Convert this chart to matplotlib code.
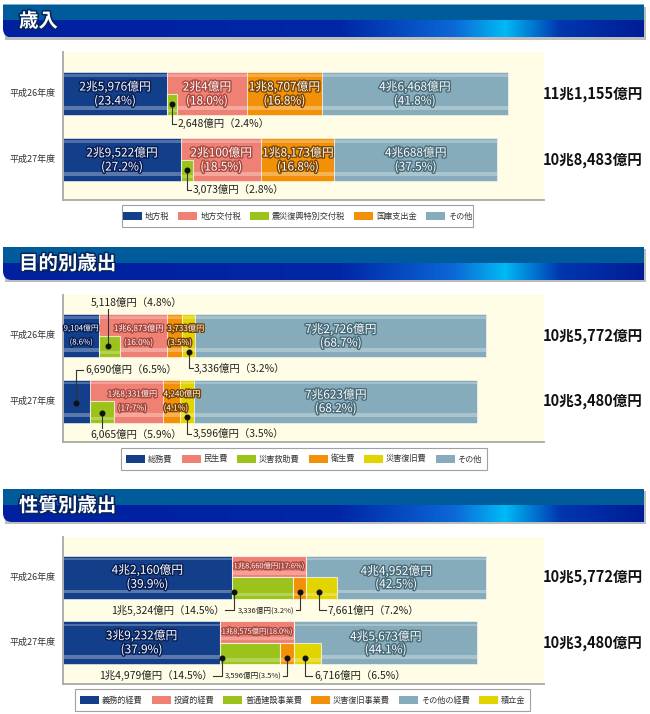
import numpy as np
import matplotlib
matplotlib.use('Agg')
import matplotlib.pyplot as plt
import matplotlib.patheffects as pe
from matplotlib.patches import Rectangle, PathPatch
from matplotlib.path import Path

plt.rcParams['font.family'] = ['Noto Sans CJK JP', 'DejaVu Sans']

years = ['平成26年度', '平成27年度']

# 歳入 (億円 / %)
rev_names = ['地方税', '地方交付税', '震災復興特別交付税', '国庫支出金', 'その他']
rev_tax = [25976, 29522]
rev_tax_pct = [23.4, 27.2]
rev_alloc = [20004, 20100]
rev_alloc_pct = [18.0, 18.5]
rev_quake = [2648, 3073]          # 地方交付税のうち
rev_quake_pct = [2.4, 2.8]
rev_treasury = [18707, 18173]
rev_treasury_pct = [16.8, 16.8]
rev_other = [46468, 40688]
rev_other_pct = [41.8, 37.5]

# 目的別歳出
pur_names = ['総務費', '民生費', '災害救助費', '衛生費', '災害復旧費', 'その他']
pur_general = [9104, 6690]
pur_general_pct = [8.6, 6.5]
pur_welfare = [16873, 18331]
pur_welfare_pct = [16.0, 17.7]
pur_relief = [5118, 6065]         # 民生費のうち
pur_relief_pct = [4.8, 5.9]
pur_health = [3733, 4240]
pur_health_pct = [3.5, 4.1]
pur_disaster = [3336, 3596]
pur_disaster_pct = [3.2, 3.5]
pur_other = [72726, 70623]
pur_other_pct = [68.7, 68.2]

# 性質別歳出
nat_names = ['義務的経費', '投資的経費', '普通建設事業費', '災害復旧事業費', 'その他の経費', '積立金']
nat_mandatory = [42160, 39232]
nat_mandatory_pct = [39.9, 37.9]
nat_invest = [18660, 18575]
nat_invest_pct = [17.6, 18.0]
nat_construct = [15324, 14979]    # 投資的経費の内訳
nat_construct_pct = [14.5, 14.5]
nat_recovery = [3336, 3596]
nat_recovery_pct = [3.2, 3.5]
nat_other = [44952, 45673]
nat_other_pct = [42.5, 44.1]
nat_reserve = [7661, 6716]        # その他の経費のうち
nat_reserve_pct = [7.2, 6.5]

W, H = 650, 714
PX = 250          # 億円 per pixel
X0, X1 = 63, 544
BAR_H = 43

NAVY = '#133e89'
PINK = '#ef8174'
GREEN = '#9cc31b'
ORANGE = '#f29108'
GRAYBLUE = '#86abba'
YELLOW = '#e2d400'
CREAM = '#fffde6'
NAVY_S = '#071d52'
PINK_S = '#a9463d'
ORANGE_S = '#7a4300'
GRAY_S = '#476a78'


def oku(v):
    if v >= 10000:
        return f'{v // 10000}兆{v % 10000:,}億円'
    return f'{v:,}億円'


fig = plt.figure(figsize=(W / 100, H / 100), dpi=100)
fig.patch.set_facecolor('white')
bg = fig.add_axes([0, 0, 1, 1])
bg.axis('off')


def banner(top, title):
    bot = top + 33
    x0, x1, r = 3, 644, 9
    bg.add_patch(Rectangle((x0 + 2, top + 2), x1 - x0, bot - top, fc='#bdbdbd', ec='none',
                           zorder=0))
    verts = [(x0, top), (x1, top), (x1, bot), (x0 + r, bot), (x0, bot), (x0, bot - r), (x0, top)]
    codes = [Path.MOVETO, Path.LINETO, Path.LINETO, Path.LINETO,
             Path.CURVE3, Path.CURVE3, Path.CLOSEPOLY]
    clip = PathPatch(Path(verts, codes), transform=bg.transData, fc='none', ec='none')
    bg.add_patch(clip)
    xs = np.arange(x0, x1) + 0.5
    sx = [x0, 340, 455, 505, 560, x1]
    sc = np.array([(0, 32, 160), (0, 38, 166), (12, 105, 215),
                   (0, 186, 245), (0, 55, 175), (0, 28, 150)]) / 255
    lower = np.stack([np.interp(xs, sx, sc[:, k]) for k in range(3)], axis=-1)
    upper = np.tile(np.array([0, 91, 155]) / 255, (len(xs), 1))
    img = np.stack([upper, lower])
    im = bg.imshow(img, extent=(x0, x1, bot, top), aspect='auto', interpolation='nearest',
                   zorder=1)
    im.set_clip_path(clip)
    bg.text(19, (top + bot) / 2 + 0.5, title, color='white', fontsize=14, fontweight='bold',
            va='center', ha='left', zorder=3,
            path_effects=[pe.withStroke(linewidth=2.2, foreground='#06245e')])


def panel(top, bottom):
    ax = fig.add_axes([X0 / W, 1 - bottom / H, (X1 - X0) / W, (bottom - top) / H])
    ax.set_xlim(0, (X1 - X0) * PX)
    ax.set_ylim(bottom, top)
    ax.set_facecolor(CREAM)
    ax.set_xticks([])
    ax.set_yticks([])
    ax.spines[['top', 'right']].set_visible(False)
    ax.spines[['left', 'bottom']].set_color('#a9a9a9')
    ax.spines[['left', 'bottom']].set_linewidth(1.3)
    return ax


def seg(ax, y, h, left, width, color):
    ax.barh(y, width, left=left, height=h, color=color, edgecolor=(1, 1, 1, 0.55), linewidth=0.7)
    ax.barh(y + h * 0.33, width, left=left, height=h * 0.09, color='white', alpha=0.3, linewidth=0)
    ax.barh(y - h * 0.42, width, left=left, height=h * 0.05, color='white', alpha=0.25, linewidth=0)


def sub(ax, y, h, left, width, color):
    ax.barh(y, width, left=left, height=h, color=color, edgecolor=(1, 1, 1, 0.7), linewidth=0.8)
    ax.barh(y + h * 0.3, width, left=left, height=h * 0.14, color='white', alpha=0.25, linewidth=0)


def inlabel(ax, x, y, s, stroke, size=8.5, ha='center'):
    ax.text(x, y, s, ha=ha, va='center', fontsize=size, color='white',
            path_effects=[pe.withStroke(linewidth=2, foreground=stroke)])


def callout(ax, xd, yd, yt, xe, s, size=7.5, gap=1.5):
    ax.plot([xd, xd, xe], [yd, yt, yt], color='#333333', lw=0.8)
    ax.plot(xd, yd, 'o', color='#111111', ms=3.3)
    if xe >= xd:
        ax.text(xe + gap * PX, yt, s, ha='left', va='center', fontsize=size, color='#222222')
    else:
        ax.text(xe - gap * PX, yt, s, ha='right', va='center', fontsize=size, color='#222222')


def legend(top, left, right, names, colors):
    h = 22
    bg.add_patch(Rectangle((left, top), right - left, h, fc='white', ec='#a0a0a0', lw=0.8))
    rend = fig.canvas.get_renderer()
    texts = [bg.text(0, top + h / 2, n, fontsize=5.9, va='center', ha='left', color='#333333')
             for n in names]
    widths = [t.get_window_extent(rend).width for t in texts]
    sw, g1, g2 = 19, 3, 9
    total = sum(sw + g1 + w for w in widths) + g2 * (len(names) - 1)
    x = (left + right) / 2 - total / 2
    for t, w, c in zip(texts, widths, colors):
        bg.add_patch(Rectangle((x, top + h / 2 - 4), sw, 8, fc=c, ec='none'))
        t.set_x(x + sw + g1)
        x += sw + g1 + w + g2


def side_texts(ys, totals):
    for i, y in enumerate(ys):
        bg.text(33, y, years[i], ha='center', va='center', fontsize=6.5, color='#333333')
        bg.text(593, y, oku(totals[i]), ha='center', va='center', fontsize=10.5,
                fontweight='bold', color='#111111')


# ---------------- 歳入 ----------------
banner(4.5, '歳入')
ax1 = panel(52, 200)
ys1 = [93.5, 159.5]
for i, y in enumerate(ys1):
    vals = [rev_tax[i], rev_alloc[i], rev_treasury[i], rev_other[i]]
    pcts = [rev_tax_pct[i], rev_alloc_pct[i], rev_treasury_pct[i], rev_other_pct[i]]
    cols = [NAVY, PINK, ORANGE, GRAYBLUE]
    strokes = [NAVY_S, PINK_S, ORANGE_S, GRAY_S]
    lefts = np.cumsum([0] + vals[:-1])
    for v, l, c, s, p in zip(vals, lefts, cols, strokes, pcts):
        seg(ax1, y, BAR_H, l, v, c)
        inlabel(ax1, l + v / 2, y - 6.5, oku(v), s)
        inlabel(ax1, l + v / 2, y + 7.5, f'({p:.1f}%)', s)
    q = rev_quake[i]
    sub(ax1, y + BAR_H / 4, BAR_H / 2, lefts[1], q, GREEN)
    xd = lefts[1] + q / 2
    callout(ax1, xd, y + 10, y + 30, xd + 4 * PX, f'{oku(q)}（{rev_quake_pct[i]:.1f}%）')
side_texts(ys1, [a + b + c + d for a, b, c, d in zip(rev_tax, rev_alloc, rev_treasury, rev_other)])
legend(205, 122, 473, rev_names, [NAVY, PINK, GREEN, ORANGE, GRAYBLUE])

# ---------------- 目的別歳出 ----------------
banner(247, '目的別歳出')
ax2 = panel(295, 442)
ys2 = [335.5, 401]
for i, y in enumerate(ys2):
    vals = [pur_general[i], pur_welfare[i], pur_health[i], pur_disaster[i], pur_other[i]]
    cols = [NAVY, PINK, ORANGE, YELLOW, GRAYBLUE]
    lefts = np.cumsum([0] + vals[:-1])
    for v, l, c in zip(vals, lefts, cols):
        seg(ax2, y, BAR_H, l, v, c)
    r = pur_relief[i]
    sub(ax2, y + BAR_H / 4, BAR_H / 2, lefts[1], r, GREEN)

    wl = lefts[1] + vals[1] * 0.58
    inlabel(ax2, wl, y - 7, oku(vals[1]), PINK_S, size=5.9)
    inlabel(ax2, wl, y + 7, f'({pur_welfare_pct[i]:.1f}%)', PINK_S, size=5.9)
    inlabel(ax2, lefts[2] + 0.5 * PX, y - 7, oku(vals[2]), ORANGE_S, 5.9, 'left')
    inlabel(ax2, lefts[2] + 0.5 * PX, y + 7, f'({pur_health_pct[i]:.1f}%)', ORANGE_S, 5.9, 'left')
    inlabel(ax2, lefts[4] + vals[4] / 2, y - 6, oku(vals[4]), GRAY_S)
    inlabel(ax2, lefts[4] + vals[4] / 2, y + 7.5, f'({pur_other_pct[i]:.1f}%)', GRAY_S)

    xd = lefts[3] + vals[3] / 2
    callout(ax2, xd, y + 16, y + 32.5, xd + 4 * PX,
            f'{oku(vals[3])}（{pur_disaster_pct[i]:.1f}%）')

    if i == 0:
        inlabel(ax2, vals[0] / 2, y - 7, oku(vals[0]), NAVY_S, size=5.6)
        inlabel(ax2, vals[0] / 2, y + 7, f'({pur_general_pct[i]:.1f}%)', NAVY_S, size=5.6)
        xr = lefts[1] + r * 0.4
        ax2.plot([xr, xr], [y + 10.5, 309], color='#333333', lw=0.8)
        ax2.plot(xr, y + 10.5, 'o', color='#111111', ms=3.3)
        ax2.text(xr - 17 * PX, 302, f'{oku(r)}（{pur_relief_pct[i]:.1f}%）',
                 ha='left', va='center', fontsize=7.5, color='#222222')
    else:
        xg = vals[0] / 2
        callout(ax2, xg, y + 2, y - 31.5, xg + 7 * PX,
                f'{oku(vals[0])}（{pur_general_pct[i]:.1f}%）')
        xr = lefts[1] + r / 2
        ax2.plot([xr, xr], [y + 12, y + 27], color='#333333', lw=0.8)
        ax2.plot(xr, y + 12, 'o', color='#111111', ms=3.3)
        ax2.text(xr - 12 * PX, y + 33, f'{oku(r)}（{pur_relief_pct[i]:.1f}%）',
                 ha='left', va='center', fontsize=7.5, color='#222222')
side_texts(ys2, [a + b + c + d + e for a, b, c, d, e in
                 zip(pur_general, pur_welfare, pur_health, pur_disaster, pur_other)])
legend(448, 121, 487, pur_names, [NAVY, PINK, GREEN, ORANGE, YELLOW, GRAYBLUE])

# ---------------- 性質別歳出 ----------------
banner(489, '性質別歳出')
ax3 = panel(537, 684)
ys3 = [577.3, 642.8]
for i, y in enumerate(ys3):
    m, inv, oth = nat_mandatory[i], nat_invest[i], nat_other[i]
    c, rec, res = nat_construct[i], nat_recovery[i], nat_reserve[i]
    seg(ax3, y, BAR_H, 0, m, NAVY)
    seg(ax3, y, BAR_H, m + inv, oth, GRAYBLUE)
    sub(ax3, y - BAR_H / 4, BAR_H / 2, m, inv, PINK)
    sub(ax3, y + BAR_H / 4, BAR_H / 2, m, c, GREEN)
    sub(ax3, y + BAR_H / 4, BAR_H / 2, m + c, rec, ORANGE)
    sub(ax3, y + BAR_H / 4, BAR_H / 2, m + inv, res, YELLOW)

    inlabel(ax3, m / 2, y - 7, oku(m), NAVY_S)
    inlabel(ax3, m / 2, y + 7, f'({nat_mandatory_pct[i]:.1f}%)', NAVY_S)
    inlabel(ax3, m + inv / 2, y - 11, f'{oku(inv)}({nat_invest_pct[i]:.1f}%)', PINK_S, size=5.3)
    inlabel(ax3, m + inv + oth / 2, y - 6, oku(oth), GRAY_S)
    inlabel(ax3, m + inv + oth / 2, y + 7, f'({nat_other_pct[i]:.1f}%)', GRAY_S)

    yt = y + 33
    xd = m + 2.5 * PX
    callout(ax3, xd, y + 15, yt, xd - 9 * PX,
            f'{oku(c)}（{nat_construct_pct[i]:.1f}%）', gap=1)
    xd = m + c + rec / 2
    callout(ax3, xd, y + 15, yt, xd - 4 * PX,
            f'{oku(rec)}({nat_recovery_pct[i]:.1f}%)', size=5.5, gap=1)
    xd = m + inv + res * 0.4
    callout(ax3, xd, y + 15, yt, xd + 7 * PX,
            f'{oku(res)}（{nat_reserve_pct[i]:.1f}%）', gap=2)
side_texts(ys3, [a + b + c for a, b, c in zip(nat_mandatory, nat_invest, nat_other)])
legend(689, 75, 530, nat_names, [NAVY, PINK, GREEN, ORANGE, GRAYBLUE, YELLOW])

bg.set_xlim(0, W)
bg.set_ylim(H, 0)

fig.savefig('out.png', dpi=100)
